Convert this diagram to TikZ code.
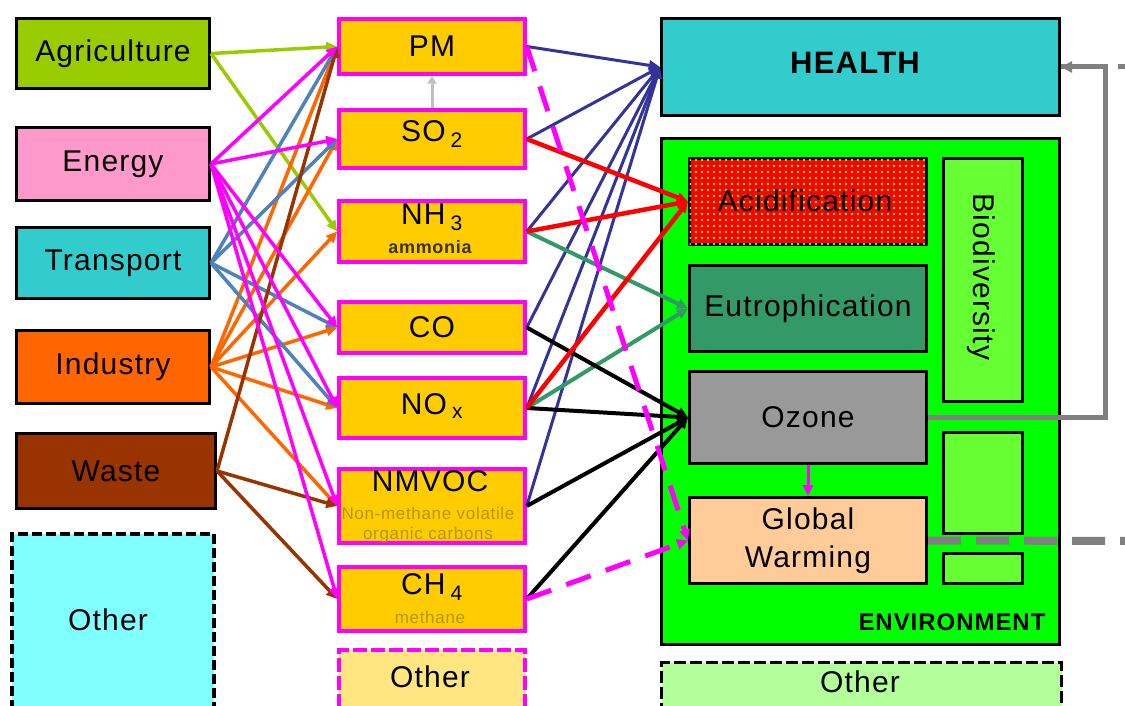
\documentclass[tikz,border=0pt]{standalone}
\usepackage{fontspec}
\setmainfont{Liberation Sans}[LetterSpace=4]
\usetikzlibrary{arrows.meta,patterns.meta}
\definecolor{cagr}{HTML}{99CC00}
\definecolor{cene}{HTML}{FF99CC}
\definecolor{ctra}{HTML}{33CCCC}
\definecolor{cind}{HTML}{FF6600}
\definecolor{cwas}{HTML}{993300}
\definecolor{cpol}{HTML}{FFCC00}
\definecolor{cmag}{HTML}{FF00FF}
\definecolor{cenv}{HTML}{00FF00}
\definecolor{cbio}{HTML}{66FF33}
\definecolor{ceut}{HTML}{339966}
\definecolor{cozo}{HTML}{999999}
\definecolor{cgw}{HTML}{FFCC99}
\definecolor{cnavy}{HTML}{333399}
\definecolor{cblue}{HTML}{4F81BD}
\definecolor{cred}{HTML}{FF0000}
\definecolor{cgrey}{HTML}{808080}
\definecolor{clgrey}{HTML}{C0C0C0}
\definecolor{cothc}{HTML}{80FFFF}
\definecolor{cothy}{HTML}{FFE680}
\definecolor{cothg}{HTML}{B3FF99}
\definecolor{csub}{HTML}{B39600}
\definecolor{cdark}{HTML}{3C3200}
\begin{document}
\begin{tikzpicture}[x=1pt,y=-1pt,
  lbl/.style={font=\fontsize{30}{38}\selectfont},
  src/.style={draw=black,line width=3pt,inner sep=0pt,lbl},
  pol/.style={draw=cmag,line width=3.5pt,fill=cpol,inner sep=0pt,minimum width=186pt,lbl},
  eff/.style={draw=black,line width=3pt,inner sep=0pt,lbl,align=center},
  sub/.style={font=\fontsize{17}{20}\selectfont,text=csub,inner sep=0pt,align=center},
  lk/.style={line width=3.5pt,-{Triangle[length=11pt,width=10pt]}},
  ]
\useasboundingbox (0,0) rectangle (1125,706);
\fill[white] (0,0) rectangle (1125,706);

% sources
\node[src,fill=cagr,minimum width=193pt,minimum height=70pt] (agr) at (113,53.5) {Agriculture};
\node[src,fill=cene,minimum width=193pt,minimum height=73pt] (ene) at (113,164) {Energy};
\node[src,fill=ctra,minimum width=193pt,minimum height=71pt] (tra) at (113,263) {Transport};
\node[src,fill=cind,minimum width=193pt,minimum height=73pt] (ind) at (113,367) {Industry};
\node[src,fill=cwas,minimum width=199pt,minimum height=75pt] (was) at (116,471) {Waste};
\node[src,fill=cothc,dash pattern=on 10pt off 4pt,line width=4pt,minimum width=202pt,minimum height=186pt] (oth1) at (112.5,627) {};
\node[lbl] (oth1t) at (108,620) {Other};

% pollutants
\node[pol,minimum height=55pt] (pm) at (432,46.5) {PM};
\node[pol,minimum height=58pt] (so2) at (432,139) {};
\node[lbl] (so2t) at (432,134) {SO\,\textsubscript{2}};
\node[pol,minimum height=61pt] (nh3) at (432,231.5) {};
\node[lbl] (nh3t) at (432,217) {NH\,\textsubscript{3}};
\node[sub,text=cdark,font=\bfseries\fontsize{18}{20}\selectfont] (nh3s) at (430,247) {ammonia};
\node[pol,minimum height=51pt] (co) at (432,327.5) {CO};
\node[pol,minimum height=60pt] (nox) at (432,408) {};
\node[lbl] (noxt) at (432,406) {NO\,\textsubscript{x}};
\node[pol,minimum height=74pt] (nmvoc) at (432,506) {};
\node[lbl] (nmvoct) at (430,481) {NMVOC};
\node[sub] (nmvocs) at (428,525) {Non-methane volatile\\organic carbons};
\node[pol,minimum height=64pt] (ch4) at (432,599) {};
\node[lbl] (ch4t) at (432,587) {CH\,\textsubscript{4}};
\node[sub] (ch4s) at (430,617) {methane};
\node[pol,fill=cothy,dash pattern=on 14pt off 4pt,minimum height=70pt] (oth2) at (432,685) {};
\node[lbl] (oth2t) at (430,677) {Other};

% effects
\node[eff,fill=ctra,minimum width=398pt,minimum height=97pt] (hea) at (860.5,67) {};
\node[lbl,font=\bfseries\fontsize{31}{36}\selectfont] (heat) at (855,63) {HEALTH};
\node[eff,fill=cenv,minimum width=398pt,minimum height=506pt] (env) at (860.5,391.5) {};
\node[font=\bfseries\fontsize{24}{28}\selectfont] (envt) at (952,622) {ENVIRONMENT};
\node[eff,fill=cred,minimum width=237pt,minimum height=86pt,
  postaction={pattern={Dots[distance=6pt,radius=1.4pt]},pattern color=cbio}] (aci) at (808,201.5) {};
\node[lbl] (acit) at (805,201) {Acidification};
\node[eff,fill=cbio,minimum width=79pt,minimum height=243pt] (bio) at (983,280) {};
\node[lbl,rotate=-90] (biot) at (981,277) {Biodiversity};
\node[eff,fill=ceut,minimum width=237pt,minimum height=86pt] (eut) at (808,308.5) {Eutrophication};
\node[eff,fill=cozo,minimum width=237pt,minimum height=92pt] (ozo) at (808,417.5) {Ozone};
\node[eff,fill=cgw,minimum width=237pt,minimum height=86pt] (gw) at (808,540.5) {Global\\Warming};
\node[eff,fill=cbio,minimum width=79pt,minimum height=101pt] (sb1) at (983,483) {};
\node[eff,fill=cbio,minimum width=79pt,minimum height=30pt] (sb2) at (983,568.5) {};
\node[eff,fill=cothg,dash pattern=on 12pt off 4pt,minimum width=400pt,minimum height=56pt] (oth3) at (861.5,690.5) {};
\node[lbl] (oth3t) at (860,682) {Other};

% source -> pollutant
\foreach \t in {pm,nh3} \draw[lk,cagr] (agr.east) -- (\t.west);
\foreach \t in {pm,so2,nh3,co,nox,nmvoc} \draw[lk,cind] (ind.east) -- (\t.west);
\foreach \t in {pm,so2,co,nox} \draw[lk,cblue] (tra.east) -- (\t.west);
\foreach \t in {pm,nmvoc,ch4} \draw[lk,cwas] (was.east) -- (\t.west);
\foreach \t in {pm,so2,co,nox,nmvoc,ch4} \draw[lk,cmag] (ene.east) -- (\t.west);

% pollutant -> effects
\foreach \s in {pm,so2,nh3,co,nox,nmvoc} \draw[lk,cnavy,line width=3pt] (\s.east) -- (hea.west);
\foreach \s in {nh3,nox} \draw[lk,ceut,line width=4pt] (\s.east) -- (eut.west);
\foreach \s in {co,nox,nmvoc,ch4} \draw[lk,black,line width=4pt] (\s.east) -- (ozo.west);
\foreach \s in {so2,nh3,nox} \draw[lk,cred,line width=4.5pt] (\s.east) -- (aci.west);
\foreach \s in {pm,ch4} \draw[lk,cmag,line width=5pt,dash pattern=on 26pt off 16pt] (\s.east) -- (gw.west);
\draw[lk,cmag,line width=3pt] (ozo.south) -- (gw.north);
\draw[lk,clgrey,line width=3pt,-{Triangle[length=8pt,width=9pt]}] (so2.north) -- (pm.south);

% grey feedback lines
\coordinate (gc) at (1105,67);
\coordinate (hr) at (1140,67);
\coordinate (gr) at (1140,541);
\draw[cgrey,line width=5pt,dash pattern=on 12pt off 45pt] (hea.east) -- (hr);
\draw[cgrey,line width=5pt,-{Triangle[length=11pt,width=11pt]}] (ozo.east) -| (gc) -- (hea.east);
\draw[cgrey,line width=8pt,dash pattern=on 33pt off 15pt] (gw.east) -- (gr);
\end{tikzpicture}
\end{document}
